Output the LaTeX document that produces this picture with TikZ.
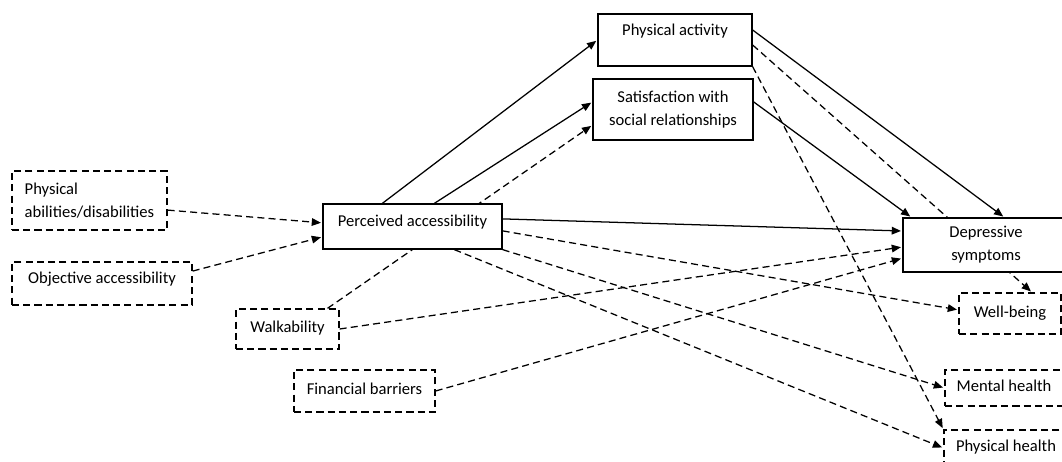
\documentclass[tikz,border=0pt]{standalone}
\usepackage{fontspec}
\setmainfont{Carlito}
\usetikzlibrary{arrows.meta,backgrounds}

\begin{document}
\begin{tikzpicture}[
	>={Triangle[length=2.3mm,width=1.9mm]},
	font=\fontsize{11.8}{16.4}\selectfont,
	box/.style={draw, line width=0.9pt, fill=white, inner sep=0pt},
	dbox/.style={box, dash pattern=on 5pt off 3pt},
	oneline/.style={text height=0.3cm, text depth=0.1cm},
	sline/.style={->, line width=0.9pt, shorten >=1pt},
	dline/.style={->, line width=0.9pt, dash pattern=on 5pt off 3pt, shorten >=1pt}
]

				\useasboundingbox (0,0) rectangle (26.55,11.55);
				\clip (0,0) rectangle (26.55,11.55);

				\node[dbox, minimum width=3.875cm, minimum height=1.475cm, align=left] (PhysAbil) at (2.2375,6.5375) {Physical\\abilities/disabilities};
				\node[dbox, minimum width=4.5cm, minimum height=1.075cm, text height=0.25cm, text depth=0.25cm] (ObjAcc) at (2.55,4.4625) {Objective accessibility};
				\node[dbox, oneline, minimum width=2.575cm, minimum height=1cm] (Walk) at (7.1875,3.325) {Walkability};
				\node[dbox, oneline, minimum width=3.525cm, minimum height=1.05cm] (Financial) at (9.1125,1.775) {Financial barriers};

				\node[box, minimum width=4.475cm, minimum height=1.125cm, text height=0.25cm, text depth=0.25cm] (Perceived) at (10.3125,5.8875) {Perceived accessibility};

				\node[box, minimum width=3.85cm, minimum height=1.3cm, text height=0.25cm, text depth=0.45cm] (PhysAct) at (16.875,10.55) {Physical activity};
				\node[box, minimum width=4cm, minimum height=1.525cm, align=center] (Satisf) at (16.825,8.8125) {Satisfaction with\\social relationships};

				\node[box, minimum width=4.15cm, minimum height=1.35cm, align=center] (Depressive) at (24.65,5.425) {Depressive\\symptoms};
				\node[dbox, oneline, minimum width=2.55cm, minimum height=1.025cm] (WellBeing) at (25.25,3.7125) {Well-being};
				\node[dbox, oneline, minimum width=2.95cm, minimum height=0.9cm] (Mental) at (25.1,1.85) {Mental health};
				\node[dbox, oneline, minimum width=3.1cm, minimum height=0.9cm] (PhysHealth) at (25.15,0.35) {Physical health};

				\begin{pgfonlayer}{background}
				\draw[sline] ([xshift=1.5cm]Perceived.north west) -- (PhysAct.west);
				\draw[sline] ([xshift=2.8cm]Perceived.north west) -- ([yshift=0.19cm]Satisf.west);
				\draw[sline] ([yshift=0.19cm]Perceived.east) -- ([yshift=0.35cm]Depressive.west);
				\draw[sline] ([yshift=0.25cm]PhysAct.east) -- ([xshift=2.55cm]Depressive.north west);
				\draw[sline] ([yshift=0.19cm]Satisf.east) -- ([xshift=0.225cm]Depressive.north west);

				\draw[dline] ([yshift=-0.24cm]PhysAbil.east) -- ([yshift=0.09cm]Perceived.west);
				\draw[dline] ([yshift=0.31cm]ObjAcc.east) -- ([yshift=-0.26cm]Perceived.west);
				\draw[dline] ([xshift=1cm]Walk.north) -- ([yshift=-0.39cm]Satisf.west);
				\draw[dline] (Walk.east) -- ([yshift=-0.05cm]Depressive.west);
				\draw[dline] (Financial.east) -- ([yshift=-0.33cm]Depressive.west);

				\draw[dline] ([yshift=-0.11cm]Perceived.east) -- ([yshift=0.09cm]WellBeing.west);
				\draw[dline] (Perceived.south east) -- (Mental.west);
				\draw[dline] ([xshift=3.3cm]Perceived.south west) -- (PhysHealth.west);

				\draw[dline] ([yshift=-0.125cm]PhysAct.east) -- ([xshift=0.55cm]WellBeing.north);
				\draw[dline] (PhysAct.south east) -- (PhysHealth.north west);
				\end{pgfonlayer}

\end{tikzpicture}
\end{document}
